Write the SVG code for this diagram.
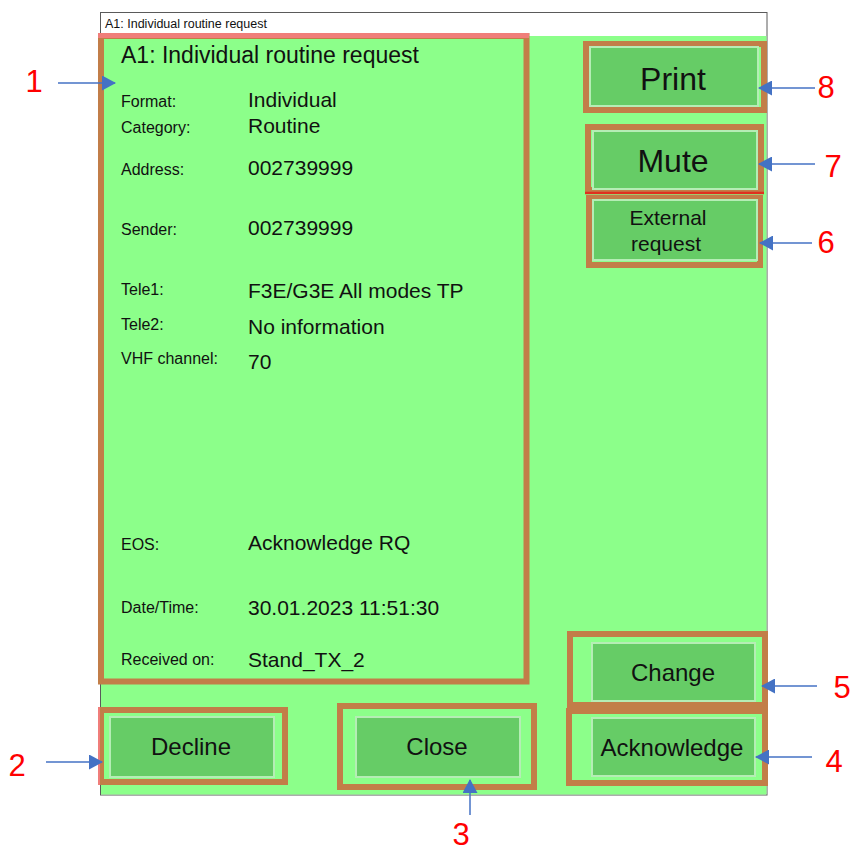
<svg xmlns="http://www.w3.org/2000/svg" width="851" height="851" viewBox="0 0 851 851">
<style>
.win{fill:#ffffff;stroke:#5a5a5a;stroke-width:1}
.bg{fill:#8CFF8A}
.frame{fill:none;stroke:#C27E48;stroke-width:6}
.btn{fill:#66CC66;stroke:#B5EDB5;stroke-width:2}
.lbl{font-family:"Liberation Sans",Arial,sans-serif;font-size:16px;fill:#111}
.val{font-family:"Liberation Sans",Arial,sans-serif;font-size:21px;fill:#111}
.bt{font-family:"Liberation Sans",Arial,sans-serif;fill:#111;text-anchor:middle}
.num{font-family:"Liberation Sans",Arial,sans-serif;font-size:31px;fill:#FF0000;text-anchor:middle}
.arr{stroke:#4472C4;stroke-width:1.5;fill:none;marker-end:url(#ah)}
</style>
<defs>
<marker id="ah" markerWidth="14" markerHeight="15" refX="13" refY="7.5" orient="auto" markerUnits="userSpaceOnUse" viewBox="0 0 14 15">
<path d="M0,0 L14,7.5 L0,15 Z" fill="#4472C4"/>
</marker>
</defs>
<rect width="851" height="851" fill="#ffffff"/>
<g id="window">
<rect class="win" x="100.5" y="12.5" width="666.5" height="782.5"/>
<text x="105" y="28" font-family="Liberation Sans, Arial, sans-serif" font-size="12.5" fill="#111">A1: Individual routine request</text>
<rect class="bg" x="101" y="36" width="665.5" height="758.5"/>
</g>
<g id="panel">
<rect class="frame" x="101" y="36" width="425.5" height="645.5"/>
<line x1="98" y1="35.5" x2="529" y2="35.5" stroke="#F07E7A" stroke-width="5"/>
<text x="121" y="63" font-family="Liberation Sans, Arial, sans-serif" font-size="23" fill="#111">A1: Individual routine request</text>
<text class="lbl" x="121" y="107">Format:</text><text class="val" x="248" y="107">Individual</text>
<text class="lbl" x="121" y="133">Category:</text><text class="val" x="248" y="133">Routine</text>
<text class="lbl" x="121" y="175">Address:</text><text class="val" x="248" y="175">002739999</text>
<text class="lbl" x="121" y="235">Sender:</text><text class="val" x="248" y="235">002739999</text>
<text class="lbl" x="121" y="295">Tele1:</text><text class="val" x="248" y="298">F3E/G3E All modes TP</text>
<text class="lbl" x="121" y="330">Tele2:</text><text class="val" x="248" y="334">No information</text>
<text class="lbl" x="121" y="364">VHF channel:</text><text class="val" x="248" y="369">70</text>
<text class="lbl" x="121" y="550">EOS:</text><text class="val" x="248" y="550">Acknowledge RQ</text>
<text class="lbl" x="121" y="613">Date/Time:</text><text class="val" x="248" y="615">30.01.2023 11:51:30</text>
<text class="lbl" x="121" y="665">Received on:</text><text class="val" x="248" y="667">Stand_TX_2</text>
</g>
<g id="print">
<rect class="frame" x="586" y="44" width="178" height="66"/>
<rect class="btn" x="590" y="47" width="168" height="59"/>
<text class="bt" x="673" y="90" font-size="32">Print</text>
</g>
<g id="mute">
<rect class="frame" x="588" y="127" width="173" height="63"/>
<rect class="btn" x="593" y="131" width="164" height="58"/>
<line x1="585" y1="193" x2="764" y2="193" stroke="#E0301E" stroke-width="2.5"/>
<text class="bt" x="673" y="172" font-size="32">Mute</text>
</g>
<g id="external">
<rect class="frame" x="589" y="198" width="171" height="67"/>
<rect class="btn" x="593" y="200" width="164" height="60"/>
<text class="bt" x="668" y="225" font-size="21">External</text>
<text class="bt" x="666" y="251" font-size="21">request</text>
</g>
<g id="change">
<rect class="frame" x="570" y="634" width="195" height="71"/>
<rect class="btn" x="592" y="643" width="163" height="58"/>
<text class="bt" x="673" y="681" font-size="24">Change</text>
</g>
<g id="acknowledge">
<rect class="frame" x="569" y="711" width="196" height="72"/>
<rect class="btn" x="592" y="718" width="163" height="58"/>
<text class="bt" x="672" y="756" font-size="24">Acknowledge</text>
</g>
<g id="decline">
<rect class="frame" x="101" y="710" width="184" height="72"/>
<line x1="99" y1="707" x2="99" y2="785" stroke="#F07E7A" stroke-width="2"/>
<rect class="btn" x="110" y="717" width="164" height="60"/>
<text class="bt" x="191" y="755" font-size="24">Decline</text>
</g>
<g id="close">
<rect class="frame" x="340" y="706" width="194" height="81"/>
<rect class="btn" x="356" y="717" width="164" height="60"/>
<text class="bt" x="437" y="755" font-size="24">Close</text>
</g>
<g id="connectors">
<line class="arr" x1="58" y1="83" x2="115" y2="83"/>
<line class="arr" x1="46" y1="762" x2="102" y2="762"/>
<line class="arr" x1="470" y1="815" x2="470" y2="780"/>
<line class="arr" x1="812" y1="757" x2="756" y2="757"/>
<line class="arr" x1="817" y1="686" x2="762" y2="686"/>
<line class="arr" x1="812" y1="243" x2="760" y2="243"/>
<line class="arr" x1="815" y1="164" x2="759" y2="164"/>
<line class="arr" x1="815" y1="88" x2="759" y2="88"/>
</g>
<g id="labels">
<text class="num" x="34" y="92">1</text>
<text class="num" x="17" y="776">2</text>
<text class="num" x="461" y="845">3</text>
<text class="num" x="834" y="772">4</text>
<text class="num" x="842" y="698">5</text>
<text class="num" x="826" y="253">6</text>
<text class="num" x="833" y="177">7</text>
<text class="num" x="826" y="98">8</text>
</g>
</svg>
